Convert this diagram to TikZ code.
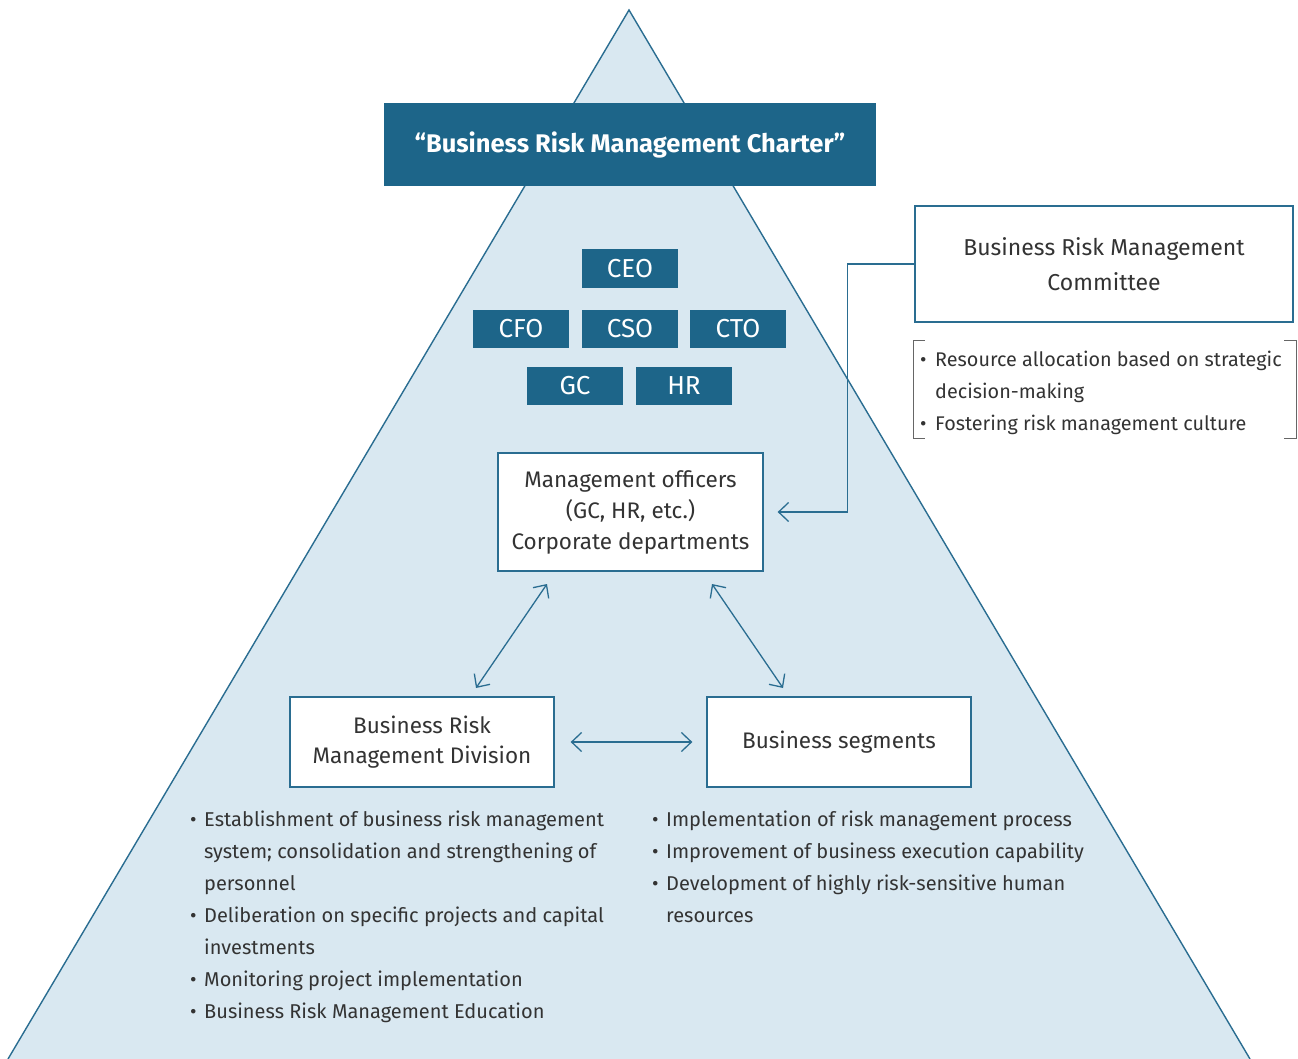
\documentclass[tikz,border=0pt]{standalone}
\usepackage{fontspec}
\setmainfont{Fira Sans}
\usetikzlibrary{arrows.meta,calc}
\definecolor{teal1}{HTML}{1D6589}
\definecolor{tealline}{HTML}{2A6D91}
\definecolor{lightfill}{HTML}{D9E8F1}
\definecolor{txt}{HTML}{333333}
\definecolor{brk}{HTML}{666666}
\begin{document}
\begin{tikzpicture}[x=1pt,y=-1pt,
  darkbox/.style={draw=none,fill=teal1,text=white,inner sep=0pt,font=\fontsize{26}{30}\selectfont},
  smallbox/.style={darkbox,minimum width=96pt,minimum height=38.5pt},
  whitebox/.style={draw=tealline,line width=1.3pt,fill=white,text=txt,inner sep=0pt,align=center},
  listline/.style={anchor=base west,inner sep=0pt,text=txt,font=\fontsize{20}{32}\selectfont},
  comline/.style={listline,font=\fontsize{19.8}{32}\selectfont},
  conn/.style={draw=tealline,line width=1.3pt},
  tip/.style={-{Straight Barb[length=10pt,width=19pt,line width=1.3pt]}},
  tips/.style={{Straight Barb[length=10pt,width=19pt,line width=1.3pt]}-{Straight Barb[length=10pt,width=19pt,line width=1.3pt]}}
]
\useasboundingbox (0,0) rectangle (1298,1059);
% pyramid
\coordinate (apex) at (629,10);
\coordinate (bl) at (8,1059);
\coordinate (br) at (1250,1059);
\fill[lightfill] (apex) -- (bl) -- (br) -- cycle;
\draw[tealline,line width=1.4pt] (bl) -- (apex) -- (br);

% charter
\node[darkbox,minimum width=492pt,minimum height=83pt,font=\bfseries\fontsize{25.5}{30}\selectfont] (charter) at (630,145) {“Business Risk Management Charter”};

% executives
\node[smallbox] (ceo) at (630,268.5) {CEO};
\node[smallbox] (cfo) at (521,329) {CFO};
\node[smallbox] (cso) at (630,329) {CSO};
\node[smallbox] (cto) at (738,329) {CTO};
\node[smallbox] (gc) at (575,386) {GC};
\node[smallbox] (hr) at (684,386) {HR};

% management officers
\node[whitebox,minimum width=265pt,minimum height=118pt,font=\fontsize{22.5}{31}\selectfont] (mo) at (630.5,512) {Management officers\\(GC, HR, etc.)\\Corporate departments};

% division and segments
\node[whitebox,minimum width=264pt,minimum height=90pt,font=\fontsize{22.5}{29.5}\selectfont] (brmd) at (422,742) {Business Risk\\Management Division};
\node[whitebox,minimum width=264pt,minimum height=90pt,font=\fontsize{22.5}{29}\selectfont] (bs) at (839,742) {Business segments};

% committee
\node[whitebox,minimum width=378pt,minimum height=116pt,font=\fontsize{23}{35}\selectfont] (comm) at (1104,264) {Business Risk Management\\Committee};

% bracket
\draw[brk,line width=0.9pt] (925,340) -- (913,340) -- (913,438) -- (925,438);
\draw[brk,line width=0.9pt] (1284,340) -- (1296,340) -- (1296,438) -- (1284,438);
\node[comline] (c1b) at (920,366) {•};
\node[comline] (c1) at (935,366) {Resource allocation based on strategic};
\node[comline] (c2) at (935,398) {decision-making};
\node[comline] (c3b) at (920,430) {•};
\node[comline] (c3) at (935,430) {Fostering risk management culture};

% left list
\node[listline] (l1b) at (190,826) {•};
\node[listline] (l1) at (204,826) {Establishment of business risk management};
\node[listline] (l2) at (204,858) {system; consolidation and strengthening of};
\node[listline] (l3) at (204,890) {personnel};
\node[listline] (l4b) at (190,922) {•};
\node[listline] (l4) at (204,922) {Deliberation on specific projects and capital};
\node[listline] (l5) at (204,954) {investments};
\node[listline] (l6b) at (190,986) {•};
\node[listline] (l6) at (204,986) {Monitoring project implementation};
\node[listline] (l7b) at (190,1018) {•};
\node[listline] (l7) at (204,1018) {Business Risk Management Education};

% right list
\node[listline] (r1b) at (652,826) {•};
\node[listline] (r1) at (666,826) {Implementation of risk management process};
\node[listline] (r2b) at (652,858) {•};
\node[listline] (r2) at (666,858) {Improvement of business execution capability};
\node[listline] (r3b) at (652,890) {•};
\node[listline] (r3) at (666,890) {Development of highly risk-sensitive human};
\node[listline] (r4) at (666,922) {resources};

% connectors
\draw[conn,tip,shorten >=14pt] (comm.west) -- ++(-67,0) |- (mo.east);
\coordinate (d1a) at (547,584);
\coordinate (d1b) at (476,688);
\coordinate (d2a) at (712,584);
\coordinate (d2b) at (783,688);
\draw[conn,tips] (d1a) -- (d1b);
\draw[conn,tips] (d2a) -- (d2b);
\draw[conn,tips,shorten <=16pt,shorten >=14pt] (brmd.east) -- (bs.west);
\end{tikzpicture}
\end{document}
